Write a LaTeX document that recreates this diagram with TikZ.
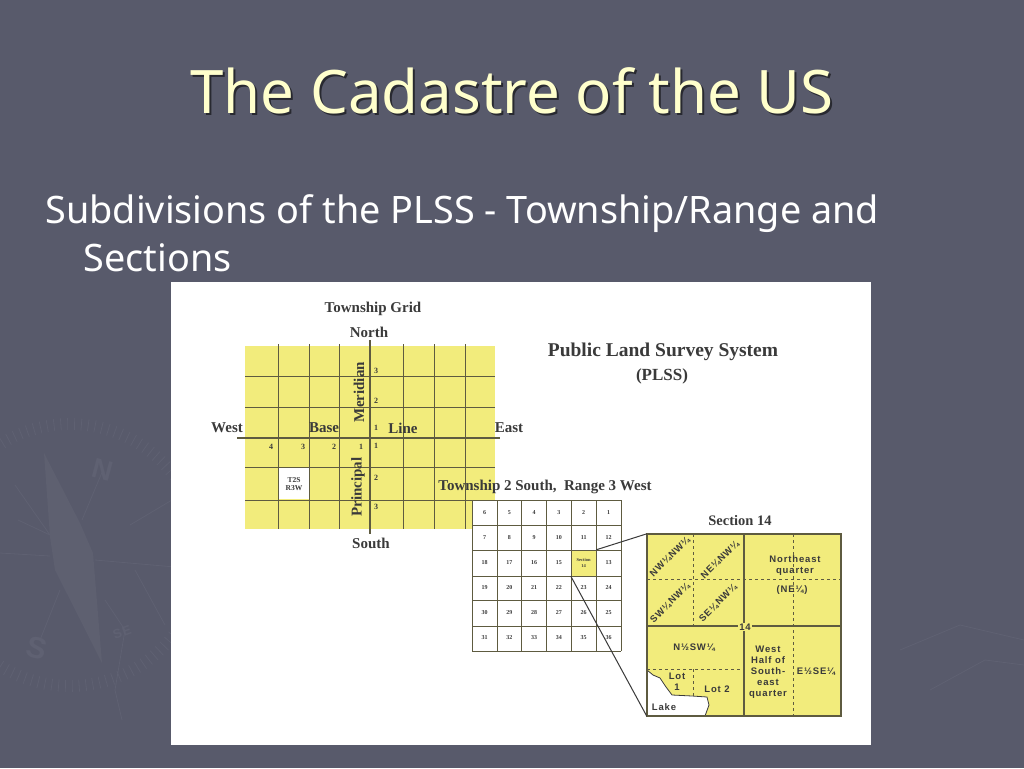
\documentclass[tikz,border=0pt]{standalone}
\usepackage{fontspec}
\setmainfont{Noto Sans}
\newfontfamily\mapserif{Liberation Serif}
\newfontfamily\mapsans[LetterSpace=9]{Liberation Sans}
\definecolor{slidebg}{HTML}{585A6B}
\definecolor{markbg}{HTML}{5F6172}
\definecolor{needlebg}{HTML}{5E6070}
\definecolor{titlecol}{HTML}{FFFFCC}
\definecolor{gridyellow}{HTML}{F2EC7C}
\definecolor{gridline}{HTML}{5E5B40}
\definecolor{inkcol}{HTML}{3A3A3A}
\tikzset{
    slidetitle/.style={anchor=base,text=titlecol,font=\fontsize{60}{60}\selectfont},
    slidetext/.style={anchor=base west,text=white,font=\fontsize{37.8}{37.8}\selectfont},
    maplabel/.style={text=inkcol,inner sep=0pt,font=\mapserif\bfseries\fontsize{15}{15}\selectfont},
    maptiny/.style={text=inkcol,inner sep=0pt,font=\mapserif\bfseries\fontsize{8}{8}\selectfont},
    detaillabel/.style={text=inkcol,inner sep=0pt,align=center,font=\mapsans\bfseries\fontsize{9.5}{11}\selectfont},
    compasslabel/.style={text=markbg,inner sep=0pt,font=\mapsans\bfseries}
}
\begin{document}
\begin{tikzpicture}[x=1pt,y=-1pt]
    \useasboundingbox (0,0) rectangle (1024,768);
    \fill[slidebg] (0,0) rectangle (1024,768);

    % compass watermark
    \begin{scope}[markbg,line width=.8pt]
        \foreach \a in {20,23,...,170}
            \draw ({70+125*cos(\a)},{555+125*sin(\a)}) -- ({70+137*cos(\a)},{555+137*sin(\a)});
        \foreach \a in {200,203,...,340}
            \draw ({70+125*cos(\a)},{555+125*sin(\a)}) -- ({70+137*cos(\a)},{555+137*sin(\a)});
        \draw (0,553) -- (50,556);
        \draw (95,560) -- (175,567);
        \draw (82,520) -- (103,470);
        \draw (60,590) -- (40,640);
        \draw (15,485) -- (50,535) -- (18,520);
        \draw (105,600) -- (125,630) -- (115,690) -- (122,720);
        \draw (135,570) -- (165,625);
        \draw (130,525) -- (172,500);
        \draw (900,650) -- (960,625) -- (1024,640);
        \draw (930,690) -- (985,660) -- (1024,665);
        \fill[needlebg] (44,453) -- (80,523) -- (93,553) -- (102,663) -- (55,570) -- (50,537) -- cycle;
    \end{scope}
    \node[compasslabel,font=\mapsans\bfseries\fontsize{28}{28}\selectfont,rotate=-15] (markn) at (103,470) {N};
    \node[compasslabel,font=\mapsans\bfseries\fontsize{30}{30}\selectfont,rotate=-15] (marks) at (37,648) {S};
    \node[compasslabel,font=\mapsans\bfseries\fontsize{13}{13}\selectfont,rotate=20] (markse) at (122,632) {SE};

    % title and text
    \node[slidetitle,text=black!55!slidebg] (shadow) at (514,115) {The Cadastre of the US};
    \node[slidetitle] (title) at (512,113) {The Cadastre of the US};
    \node[slidetext] (line1) at (42,223) {Subdivisions of the PLSS - Township/Range and};
    \node[slidetext] (line2) at (80,271) {Sections};

    % white panel
    \fill[white] (171,282) rectangle (871,745);

    % township grid
    \fill[gridyellow] (245,346) rectangle (495,529);
    \fill[white] (279,468) rectangle (309,499);
    \begin{scope}[every path/.style={gridline,line width=1pt}]
        \foreach \x in {278,309,339,403,434,465}
            \draw (\x,344) -- (\x,529);
        \foreach \y in {376,407,467,500}
            \draw (245,\y) -- (495,\y);
        \draw[line width=1.6pt] (370,340) -- (370,534);
        \draw[line width=1.6pt] (237,438) -- (500,438);
    \end{scope}
    \node[maptiny,font=\mapserif\bfseries\fontsize{7.5}{8.5}\selectfont,align=center] (t2s) at (294,484) {T2S\\R3W};
    \node[maplabel] (gridtitle) at (373,309) {Township Grid};
    \node[maplabel] (north) at (369,332) {North};
    \node[maplabel] (south) at (371,543) {South};
    \node[maplabel] (west) at (227,428) {West};
    \node[maplabel] (east) at (509,428) {East};
    \node[maplabel] (base) at (324,428) {Base};
    \node[maplabel] (line) at (403,428) {Line};
    \node[maplabel,rotate=90] (meridian) at (359,392) {Meridian};
    \node[maplabel,rotate=90] (principal) at (358,487) {Principal};
    \foreach \n/\y [count=\i] in {3/371,2/401,1/428,1/446,2/478,3/507}
        \node[maptiny] (ns\i) at (376,\y) {\n};
    \foreach \n/\x in {4/271,3/303,2/334,1/361}
        \node[maptiny] (ew\n) at (\x,447) {\n};
    \node[maplabel,font=\mapserif\bfseries\fontsize{19.5}{19.5}\selectfont] (plss1) at (663,352) {Public Land Survey System};
    \node[maplabel,font=\mapserif\bfseries\fontsize{17}{17}\selectfont] (plss2) at (662,376) {(PLSS)};

    % township sections
    \node[maplabel,font=\mapserif\bfseries\fontsize{15}{15}\selectfont] (towntitle) at (545,487) {Township 2 South,\ \ Range 3 West};
    \fill[white] (472,500) rectangle (621,529);
    \node[draw=none,fill=gridyellow,minimum width=25pt,minimum height=26pt,inner sep=0pt] (sec14) at (583.5,563) {};
    \begin{scope}[every path/.style={gridline,line width=.8pt}]
        \foreach \x in {472,497,521,546,571,596,621}
            \draw (\x,500) -- (\x,651);
        \foreach \y in {500,525,550,576,600,626,651}
            \draw (472,\y) -- (621,\y);
    \end{scope}
    \foreach \row/\y/\nums in {
        1/513/{6,5,4,3,2,1},
        2/538/{7,8,9,10,11,12},
        3/563/{18,17,16,15,,13},
        4/588/{19,20,21,22,23,24},
        5/613/{30,29,28,27,26,25},
        6/638/{31,32,33,34,35,36}}
        \foreach \n [count=\c] in \nums
            \node[maptiny,font=\mapserif\bfseries\fontsize{6}{6}\selectfont] (s\row-\c) at ({484.5+24.8*(\c-1)},\y) {\n};
    \node[maptiny,font=\mapserif\bfseries\fontsize{4.5}{5.5}\selectfont,align=center] (sec14txt) at (sec14) {Section\\14};

    % section 14
    \node[maplabel,font=\mapserif\bfseries\fontsize{14.5}{14.5}\selectfont] (sectitle) at (740,521) {Section 14};
    \node[fill=gridyellow,minimum width=194pt,minimum height=182pt,inner sep=0pt] (detail) at (744,625) {};
    \fill[white] (647,670) -- (653,675) -- (660,678) -- (666,687) -- (672,695) -- (692,696)
        -- (707,697) -- (709,705) -- (705,716) -- (647,716) -- cycle;
    \draw[inkcol,line width=.8pt] (647,670) -- (653,675) -- (660,678) -- (666,687) -- (672,695) -- (692,696)
        -- (707,697) -- (709,705) -- (705,716);
    \begin{scope}[every path/.style={gridline,line width=1pt}]
        \draw[line width=1.3pt] (647,534) rectangle (841,716);
        \draw[line width=1.3pt] (744,534) -- (744,716);
        \draw[line width=1.3pt] (647,626) -- (841,626);
        \draw[dashed] (693,534) -- (693,626);
        \draw[dashed] (647,579) -- (841,579);
        \draw[dashed] (793,534) -- (793,716);
        \draw[dashed] (647,669) -- (744,669);
        \draw[dashed] (693,669) -- (693,696);
    \end{scope}
    \draw[inkcol,line width=1pt] (sec14.north east) -- (detail.north west);
    \draw[inkcol,line width=1pt] (sec14.south west) -- (detail.south west);
    \node[detaillabel,rotate=45] (nwnw) at (670,557) {NW¼NW¼};
    \node[detaillabel,rotate=45] (nenw) at (720,560) {NE¼NW¼};
    \node[detaillabel,rotate=45] (swnw) at (670,603) {SW¼NW¼};
    \node[detaillabel,rotate=45] (senw) at (718,603) {SE¼NW¼};
    \node[detaillabel] (ne1) at (795,566) {Northeast\\quarter};
    \node[detaillabel] (ne2) at (792,590) {(NE¼)};
    \node[detaillabel,fill=gridyellow,inner sep=1pt] (num14) at (745,627) {14};
    \node[detaillabel] (nsw) at (694,648) {N½SW¼};
    \node[detaillabel,font=\mapsans\bfseries\fontsize{9.5}{10.9}\selectfont] (halfse) at (768,672) {West\\Half of\\South-\\east\\quarter};
    \node[detaillabel] (ese) at (816,672) {E½SE¼};
    \node[detaillabel] (lot1) at (677,682) {Lot\\1};
    \node[detaillabel] (lot2) at (717,689) {Lot 2};
    \node[detaillabel] (lake) at (664,707) {Lake};
\end{tikzpicture}
\end{document}
